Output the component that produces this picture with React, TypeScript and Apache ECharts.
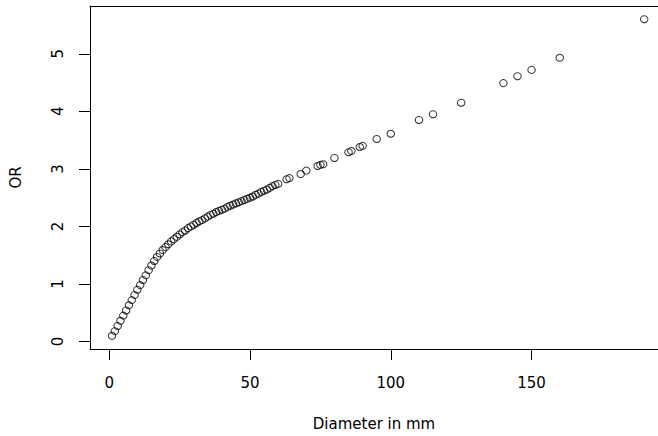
import React, { useEffect, useRef } from "react";
import * as echarts from "echarts";

// Diameter (mm) values
const diameters: number[] = [
  1, 2, 3, 4, 5, 6, 7, 8, 9, 10,
  11, 12, 13, 14, 15, 16, 17, 18, 19, 20,
  21, 22, 23, 24, 25, 26, 27, 28, 29, 30,
  31, 32, 33, 34, 35, 36, 37, 38, 39, 40,
  41, 42, 43, 44, 45, 46, 47, 48, 49, 50,
  51, 52, 53, 54, 55, 56, 57, 58, 59, 60,
  63, 64, 68, 70, 74, 75, 76, 80, 85, 86,
  89, 90, 95, 100, 110, 115, 125, 140, 145, 150,
  160, 190,
];

// OR values
const orValues: number[] = [
  0.10, 0.18, 0.27, 0.36, 0.45, 0.54, 0.63, 0.72, 0.81, 0.90,
  0.98, 1.07, 1.15, 1.24, 1.32, 1.40, 1.47, 1.53, 1.59, 1.64,
  1.69, 1.74, 1.78, 1.82, 1.86, 1.90, 1.93, 1.97, 2.00, 2.03,
  2.06, 2.09, 2.11, 2.14, 2.17, 2.20, 2.22, 2.25, 2.27, 2.29,
  2.31, 2.34, 2.36, 2.38, 2.40, 2.42, 2.44, 2.46, 2.48, 2.50,
  2.52, 2.55, 2.57, 2.60, 2.62, 2.64, 2.67, 2.70, 2.72, 2.74,
  2.82, 2.84, 2.91, 2.97, 3.05, 3.07, 3.08, 3.19, 3.29, 3.31,
  3.38, 3.40, 3.52, 3.61, 3.85, 3.95, 4.15, 4.49, 4.61, 4.72,
  4.93, 5.60,
];

const xTicks: number[] = [0, 50, 100, 150];
const yTicks: number[] = [0, 1, 2, 3, 4, 5];

const FONT = "DejaVu Sans";
const X_MIN = -6.82;
const X_MAX = 194.9;

export default function App() {
  const ref = useRef<HTMLDivElement>(null);

  useEffect(() => {
    if (!ref.current) return;
    const chart = echarts.init(ref.current, undefined, { renderer: "svg" });
    const data = diameters.map((d, i) => [d, orValues[i]]);
    const lineStyle = { color: "#000", width: 1 };
    chart.setOption({
      animation: false,
      backgroundColor: "#ffffff",
      grid: {
        left: 90,
        right: 0,
        top: 6,
        bottom: 87,
        show: false,
        containLabel: false,
      },
      xAxis: [
        {
          type: "value",
          position: "bottom",
          min: X_MIN,
          max: X_MAX,
          name: "Diameter in mm",
          nameLocation: "middle",
          nameGap: 67,
          nameTextStyle: { color: "#000", fontFamily: FONT, fontSize: 15 },
          axisLine: { show: true, onZero: false, lineStyle },
          splitLine: { show: false },
          axisTick: {
            show: true,
            length: 11,
            customValues: xTicks,
            lineStyle,
          },
          axisLabel: {
            customValues: xTicks,
            margin: 26,
            color: "#000",
            fontFamily: FONT,
            fontSize: 15,
          },
        },
        {
          type: "value",
          position: "top",
          min: X_MIN,
          max: X_MAX,
          axisLine: { show: true, onZero: false, lineStyle },
          axisTick: { show: false },
          axisLabel: { show: false },
          splitLine: { show: false },
        },
      ],
      yAxis: {
        type: "value",
        min: -0.13,
        max: 5.83,
        name: "OR",
        nameLocation: "middle",
        nameGap: 67,
        nameTextStyle: { color: "#000", fontFamily: FONT, fontSize: 15 },
        axisLine: { show: true, onZero: false, lineStyle },
        splitLine: { show: false },
        axisTick: {
          show: true,
          length: 11,
          customValues: yTicks,
          lineStyle,
        },
        axisLabel: {
          customValues: yTicks,
          rotate: 90,
          margin: 25,
          color: "#000",
          fontFamily: FONT,
          fontSize: 15,
        },
      },
      series: [
        {
          type: "scatter",
          xAxisIndex: 0,
          data,
          symbol: "circle",
          symbolSize: [7.5, 7],
          itemStyle: {
            color: "transparent",
            borderColor: "#000",
            borderWidth: 1,
          },
          emphasis: { disabled: true },
        },
      ],
    });
    return () => chart.dispose();
  }, []);

  return (
    <div
      ref={ref}
      style={{ position: "fixed", left: 0, top: 0, width: 658, height: 436 }}
    />
  );
}
